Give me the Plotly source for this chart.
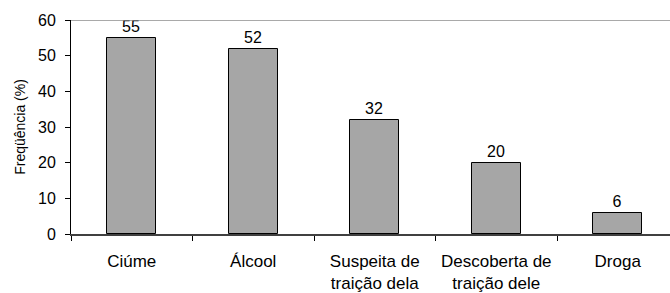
import plotly.graph_objects as go

categories = ["Ciúme", "Álcool", "Suspeita de<br>traição dela", "Descoberta de<br>traição dele", "Droga"]
values = [55, 52, 32, 20, 6]
y_ticks = [0, 10, 20, 30, 40, 50, 60]

x_idx = list(range(len(categories)))
FONT = "Liberation Sans, Arial, sans-serif"

fig = go.Figure()
fig.add_trace(go.Bar(
    x=x_idx, y=values, width=0.4,
    marker=dict(color="#a6a6a6", line=dict(color="#000000", width=1)),
    text=[str(v) for v in values], textposition="outside",
    textfont=dict(family=FONT, size=16, color="#000"),
    cliponaxis=False,
))

fig.update_layout(
    width=670, height=293,
    margin=dict(l=71, r=0, t=20, b=59),
    paper_bgcolor="white", plot_bgcolor="white",
    font=dict(family=FONT, size=16, color="#000"),
    showlegend=False,
    bargap=0,
)
fig.update_xaxes(
    range=[-0.5, -0.5 + 599 / 121.5],
    tickmode="array", tickvals=x_idx, ticktext=categories,
    showgrid=False, zeroline=False,
    showline=True, linecolor="#404040", linewidth=1.5,
    ticks="", tickfont=dict(size=17), ticklabelstandoff=11,
)
fig.update_xaxes(minor=dict(tickmode="array", tickvals=[i - 0.5 for i in range(len(categories) + 1)],
                            ticks="outside", ticklen=5, tickcolor="#000", tickwidth=1, showgrid=False))
fig.update_yaxes(
    range=[0, 60], tickmode="array", tickvals=y_ticks,
    showgrid=False, zeroline=False,
    showline=True, linecolor="#000", linewidth=1,
    ticks="outside", ticklen=5, tickcolor="#000",
    title=dict(text="Freqüência (%)", font=dict(size=14), standoff=9),
    tickfont=dict(size=16), ticklabelstandoff=6,
)
fig.add_shape(type="line", xref="paper", yref="y", x0=0, x1=1, y0=60, y1=60,
              line=dict(color="#8c8c8c", width=1.5))

fig.write_html("out.html", config={"displayModeBar": False},
               post_script="document.body.style.margin='0';")
